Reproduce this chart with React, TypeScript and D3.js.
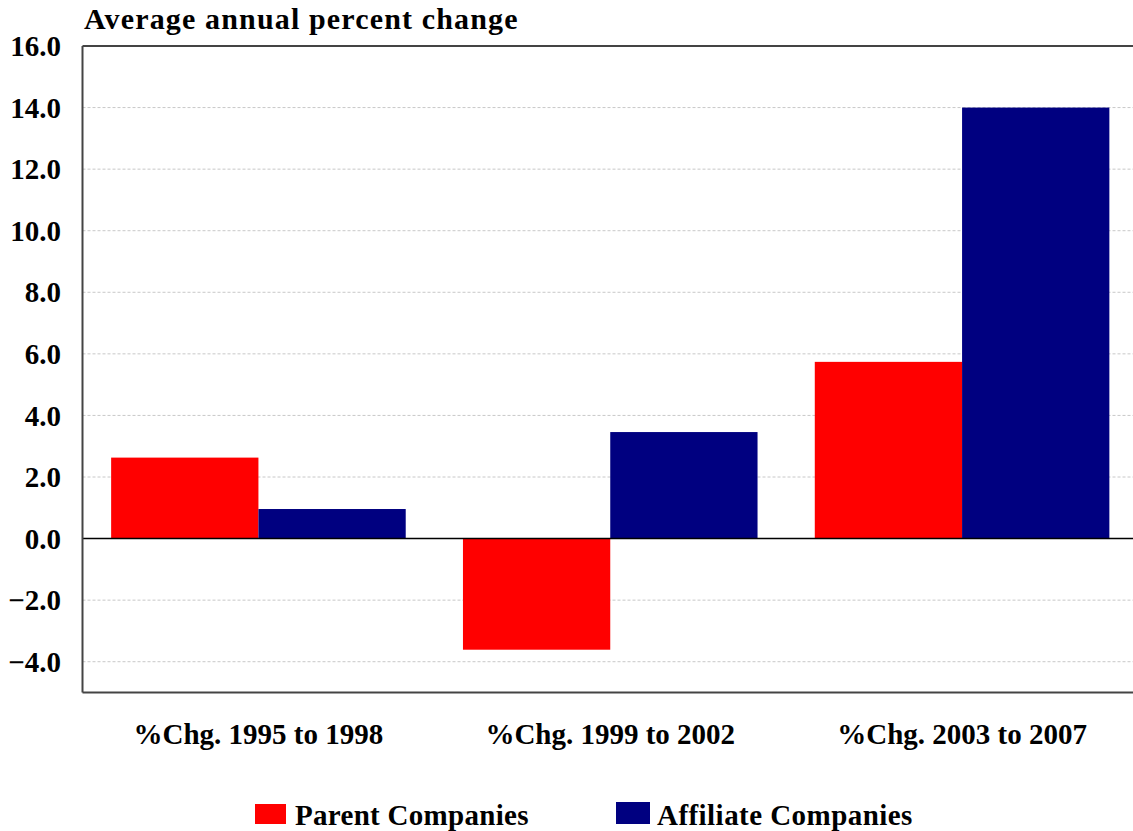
import React from "react";
import * as d3 from "d3";

const categories = ["%Chg. 1995 to 1998", "%Chg. 1999 to 2002", "%Chg. 2003 to 2007"];
const seriesNames = ["Parent Companies", "Affiliate Companies"];
const parentValues = [2.63, -3.61, 5.74];
const affiliateValues = [0.96, 3.46, 14.0];
const yTicks = [-4, -2, 0, 2, 4, 6, 8, 10, 12, 14, 16];
const colors = ["#ff0000", "#000080"];

const W = 1133;
const H = 831;
const left = 82.5;
const right = 1138;
const top = 46;
const bottom = 692.5;
const FONT = "'Liberation Serif', 'Times New Roman', serif";

export default function App() {
  const y = d3.scaleLinear().domain([-5, 16]).range([bottom, top]);
  const x0 = d3.scaleBand<string>().domain(categories).range([left, right]).paddingInner(0.1627).paddingOuter(0.0814);
  const x1 = d3.scaleBand<string>().domain(seriesNames).range([0, x0.bandwidth()]).padding(0);
  const series = [parentValues, affiliateValues];

  return (
    <svg width={W} height={H} style={{ position: "absolute", left: 0, top: 0, background: "#fff" }} fontFamily={FONT} fontWeight="bold">
      <rect x={0} y={0} width={W} height={H} fill="#fff" />
      <text x={84} y={29} fontSize={30} fill="#000" letterSpacing={1.15}>Average annual percent change</text>
      {yTicks.map((t) => (
        <g key={t}>
          {t !== 0 && t !== 16 && (
            <line x1={left} x2={right} y1={y(t)} y2={y(t)} stroke="#c8c8c8" strokeWidth={1} strokeDasharray="3,2" />
          )}
          <text x={61} y={y(t)} dy="0.35em" textAnchor="end" fontSize={29} fill="#000">
            {d3.format(".1f")(t)}
          </text>
        </g>
      ))}
      {categories.map((c, i) =>
        series.map((vals, s) => {
          const v = vals[i];
          const bx = (x0(c) as number) + (x1(seriesNames[s]) as number);
          return (
            <rect key={c + s} x={bx} width={x1.bandwidth()} y={y(Math.max(0, v))} height={Math.abs(y(v) - y(0))} fill={colors[s]} />
          );
        })
      )}
      <line x1={left} x2={right} y1={y(0)} y2={y(0)} stroke="#000" strokeWidth={1.5} />
      <line x1={left} x2={right} y1={top} y2={top} stroke="#444" strokeWidth={2} />
      <line x1={left} x2={right} y1={bottom} y2={bottom} stroke="#444" strokeWidth={2} />
      <line x1={left} x2={left} y1={top} y2={bottom} stroke="#444" strokeWidth={2} />
      {categories.map((c) => (
        <text key={c} x={(x0(c) as number) + x0.bandwidth() / 2} y={744} textAnchor="middle" fontSize={29} fill="#000">
          {c}
        </text>
      ))}
      <rect x={255} y={804} width={31} height={20} fill={colors[0]} />
      <text x={295} y={825} fontSize={29} fill="#000" letterSpacing={0.3}>{seriesNames[0]}</text>
      <rect x={616} y={802} width={34} height={22} fill={colors[1]} />
      <text x={657} y={825} fontSize={29} fill="#000" letterSpacing={0.45}>{seriesNames[1]}</text>
    </svg>
  );
}
